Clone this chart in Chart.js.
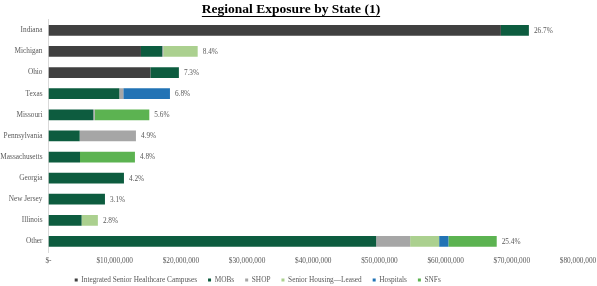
<!DOCTYPE html>
<html>
<head>
<meta charset="utf-8">
<script src="https://cdn.jsdelivr.net/npm/chart.js@4.4.1/dist/chart.umd.min.js"></script>
<style>
html,body{margin:0;padding:0;background:#ffffff;}
canvas{display:block;}
</style>
</head>
<body>
<canvas id="c" width="597" height="286"></canvas>
<script>
// ---- Data ----
const states = ["Indiana","Michigan","Ohio","Texas","Missouri","Pennsylvania","Massachusetts","Georgia","New Jersey","Illinois","Other"];
const integratedCampuses = [68350000, 13970000, 15400000, 0, 0, 0, 0, 0, 0, 0, 0];
const mobs               = [4230000, 3220000, 4300000, 10700000, 6770000, 4710000, 4760000, 11400000, 8530000, 5000000, 49500000];
const shop               = [0, 150000, 0, 600000, 210000, 8500000, 0, 0, 0, 0, 5140000];
const seniorHousingLeased= [0, 5200000, 0, 0, 0, 0, 0, 0, 0, 2460000, 4380000];
const hospitals          = [0, 0, 0, 7050000, 0, 0, 0, 0, 0, 0, 1400000];
const snfs               = [0, 0, 0, 0, 8250000, 0, 8300000, 0, 0, 0, 7300000];
const percentLabels = ["26.7%","8.4%","7.3%","6.8%","5.6%","4.9%","4.8%","4.2%","3.1%","2.8%","25.4%"];
const seriesNames = ["Integrated Senior Healthcare Campuses","MOBs","SHOP","Senior Housing\u2014Leased","Hospitals","SNFs"];
const xTickMin = 0, xTickMax = 80000000, xTickStep = 10000000;

const FONT = "'Liberation Serif','Times New Roman',serif";
const colors = ["#404040","#0d5c3f","#a6a6a6","#abd08f","#2273b5","#5cb351"];
const seriesData = [integratedCampuses, mobs, shop, seniorHousingLeased, hospitals, snfs];

const LEGEND_PAD = 11;
const LEGEND_FONT = 7.3;
const X_AXIS_H = 15.35;
const LEGEND_H = LEGEND_FONT + 2 * LEGEND_PAD;

const customPlugin = {
  id: 'custom',
  afterLayout(chart) {
    const lg = chart.legend;
    if (lg) {
      const w = lg.right - lg.left, h = lg.bottom - lg.top;
      lg.left = 64.7 - (LEGEND_PAD - 10); lg.right = lg.left + w;
      lg.top = 280 - LEGEND_PAD - LEGEND_FONT / 2; lg.bottom = lg.top + h;
    }
    const tb = chart.titleBlock;
    if (tb) { tb.left = -7.5; tb.right = 597 - 7.5; }
  },
  afterDatasetsDraw(chart) {
    const ctx = chart.ctx;
    ctx.save();
    ctx.font = "7.3px " + FONT;
    ctx.fillStyle = "#595959";
    ctx.textAlign = "left";
    ctx.textBaseline = "middle";
    states.forEach((s, i) => {
      let maxX = null, y = null;
      chart.data.datasets.forEach((ds, di) => {
        const v = ds.data[i];
        if (v > 0) {
          const el = chart.getDatasetMeta(di).data[i];
          if (maxX === null || el.x > maxX) { maxX = el.x; y = el.y; }
        }
      });
      if (maxX !== null) ctx.fillText(percentLabels[i], maxX + 5, y + 0.5);
    });
    ctx.restore();
  },
  afterDraw(chart) {
    const tb = chart.titleBlock;
    if (!tb) return;
    const ctx = chart.ctx;
    const opts = tb.options;
    ctx.save();
    ctx.font = "bold 13.5px " + FONT;
    const text = opts.text;
    const w = ctx.measureText(text).width;
    const cx = (tb.left + tb.right) / 2;
    const lh = 13.5 * 1.2;
    const cy = tb.top + opts.padding.top + lh / 2;
    ctx.strokeStyle = "#000000";
    ctx.lineWidth = 1;
    ctx.beginPath();
    ctx.moveTo(cx - w / 2, Math.round(cy + 6) + 0.5);
    ctx.lineTo(cx + w / 2, Math.round(cy + 6) + 0.5);
    ctx.stroke();
    ctx.restore();
  }
};

new Chart(document.getElementById('c'), {
  type: 'bar',
  data: {
    labels: states,
    datasets: seriesNames.map((name, k) => ({
      label: name,
      data: seriesData[k],
      backgroundColor: colors[k],
      borderWidth: 0,
      barPercentage: 0.51,
      categoryPercentage: 1.0
    }))
  },
  options: {
    indexAxis: 'y',
    responsive: false,
    animation: false,
    devicePixelRatio: 1,
    layout: { padding: { left: 0, right: 19, top: 0, bottom: (286 - 251 - X_AXIS_H) - LEGEND_H } },
    scales: {
      x: {
        stacked: true,
        min: xTickMin,
        max: xTickMax,
        grid: { display: false, drawTicks: false },
        border: { display: false },
        ticks: {
          stepSize: xTickStep,
          padding: 5,
          color: "#595959",
          font: { family: FONT, size: 7.3 },
          maxRotation: 0,
          callback: (v) => v === 0 ? "$-" : "$" + Number(v).toLocaleString('en-US')
        },
        afterFit(scale) {
          scale.height = X_AXIS_H;
          scale.paddingRight = 0;
          scale.paddingLeft = 0;
        }
      },
      y: {
        stacked: true,
        grid: { display: false, drawTicks: false },
        border: { display: true, color: "#d9d9d9", width: 1 },
        ticks: {
          autoSkip: false,
          padding: 6,
          color: "#595959",
          font: { family: FONT, size: 7.3 }
        },
        afterFit(scale) { scale.width = 48.5; }
      }
    },
    plugins: {
      title: {
        display: true,
        text: "Regional Exposure by State (1)",
        color: "#000000",
        font: { family: FONT, size: 13.5, weight: 'bold' },
        padding: { top: 1.6, bottom: 2 }
      },
      legend: {
        display: true,
        position: 'bottom',
        align: 'start',
        labels: {
          boxWidth: 3,
          boxHeight: 3,
          padding: LEGEND_PAD,
          color: "#595959",
          font: { family: FONT, size: LEGEND_FONT }
        }
      },
      tooltip: { enabled: false }
    }
  },
  plugins: [customPlugin]
});
</script>
</body>
</html>
